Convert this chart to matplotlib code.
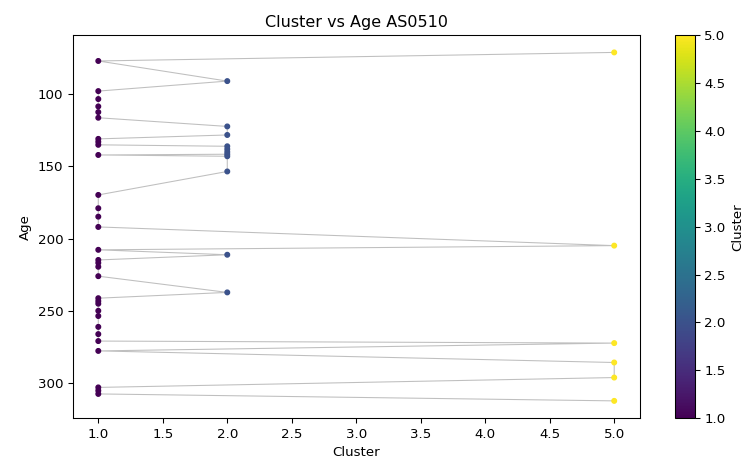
import matplotlib
matplotlib.use('Agg')
import matplotlib.pyplot as plt

# samples in depth order: age and assigned cluster
age = [71.5, 77.4, 91.3, 98.2, 103.7, 108.8, 112.7, 116.6, 122.6, 128.5,
       131.2, 133.2, 135.3, 136.3, 138.3, 140.2, 141.8, 142.3, 143.2, 153.7,
       169.9, 179.1, 184.9, 192.0, 204.9, 207.8, 211.2, 214.8, 216.8, 219.5,
       226.0, 237.2, 241.2, 243.2, 245.0, 249.9, 253.5, 261.0, 266.0, 270.8,
       272.2, 277.6, 285.6, 296.0, 302.8, 305.0, 307.3, 312.1]
cluster = [5, 1, 2, 1, 1, 1, 1, 1, 2, 2,
           1, 1, 1, 2, 2, 2, 2, 1, 2, 2,
           1, 1, 1, 1, 5, 1, 2, 1, 1, 1,
           1, 2, 1, 1, 1, 1, 1, 1, 1, 1,
           5, 1, 5, 5, 1, 1, 1, 5]

W, H = 754, 463
DPI = 96
fig = plt.figure(figsize=(W / DPI, H / DPI), dpi=DPI)
ax = fig.add_axes([72.5 / W, (H - 418.3) / H, 567.5 / W, 383.3 / H])
cax = fig.add_axes([675 / W, (H - 418.3) / H, 20 / W, 383.3 / H])

ax.plot(cluster, age, color='gray', alpha=0.5, lw=0.8, zorder=1)
sc = ax.scatter(cluster, age, c=cluster, cmap='viridis', s=12, zorder=2)
ax.invert_yaxis()

ax.set_title('Cluster vs Age AS0510')
ax.set_xlabel('Cluster')
ax.set_ylabel('Age')

cb = fig.colorbar(sc, cax=cax)
cb.set_label('Cluster')

fig.savefig('out.png', dpi=DPI)
